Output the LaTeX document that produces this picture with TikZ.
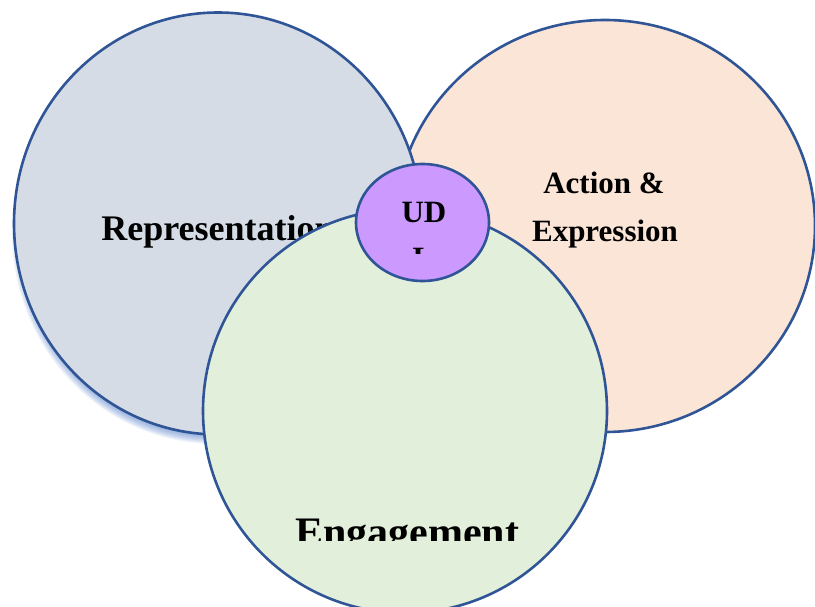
\documentclass[tikz,border=0pt]{standalone}
\usepackage{fontspec}
\setmainfont{Liberation Serif}
\usetikzlibrary{shapes.geometric}
\definecolor{rimblue}{HTML}{2F5597}
\definecolor{repfill}{HTML}{D6DCE5}
\definecolor{actfill}{HTML}{FBE5D6}
\definecolor{engfill}{HTML}{E2EFDA}
\definecolor{udlfill}{HTML}{CC99FF}
\definecolor{glowblue}{HTML}{4472C4}
\tikzset{
  blob/.style={ellipse, draw=rimblue, line width=2.6pt, inner sep=0pt},
  lbl/.style={anchor=base, inner sep=0pt, font=\bfseries\fontsize{#1}{#1}\selectfont},
}
\begin{document}
\begin{tikzpicture}[x=1pt,y=-1pt]
    \clip (0,0) rectangle (815,607);
    % action and expression
    \node[blob, fill=actfill, minimum width=420pt, minimum height=412pt] (act) at (605,226) {};
    \node[lbl=31] (actA) at (604,194) {Action \&};
    \node[lbl=31] (actB) at (605,242) {Expression};
    % soft shadow under representation
    \foreach \d in {0,...,8}
        \fill[glowblue, opacity=0.08] (216,233) ellipse [x radius=196+\d, y radius=203+\d];
    % representation
    \node[blob, fill=repfill, minimum width=408pt, minimum height=422pt] (rep) at (218,223.5) {};
    \node[lbl=36] (repT) at (218,241) {Representation};
    % engagement
    \node[blob, fill=engfill, minimum width=404pt, minimum height=404pt] (eng) at (405,411) {};
    \begin{scope}
        \clip (250,516) rectangle (560,540);
        \node[lbl=42] (engT) at (407,546) {Engagement};
    \end{scope}
    % udl
    \node[blob, fill=udlfill, minimum width=133pt, minimum height=117pt] (udl) at (422.5,222.5) {};
    \node[lbl=31] (udlA) at (424,223) {UD};
    \begin{scope}
        \clip (380,240) rectangle (470,254);
        \node[lbl=31] (udlB) at (423,269) {L};
    \end{scope}
\end{tikzpicture}
\end{document}
